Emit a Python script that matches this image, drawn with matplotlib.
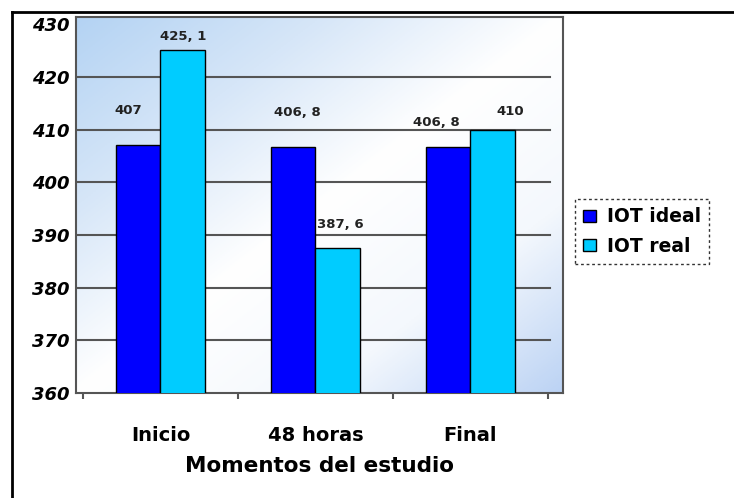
import numpy as np
import matplotlib
matplotlib.use("Agg")
from matplotlib import pyplot as plt
from matplotlib.lines import Line2D
from matplotlib.colors import LinearSegmentedColormap

momentos = ["Inicio", "48 horas", "Final"]
iot_ideal = [407, 406.8, 406.8]
iot_real = [425.1, 387.6, 410]
etiq_ideal = ["407", "406, 8", "406, 8"]
etiq_real = ["425, 1", "387, 6", "410"]
yticks = [360, 370, 380, 390, 400, 410, 420, 430]

# where excel put each data label, pixel offset from the bar top
off_ideal = [(-10, 35), (4, 34), (-12, 24)]
off_real = [(1, 14), (3, 23), (18, 18)]

c_ideal = "#0000FF"
c_real = "#00CCFF"
grid_c = "#555555"

fig = plt.figure(figsize=(7.34, 4.98), dpi=100)
ax = fig.add_axes([76 / 734, 1 - 393 / 498, (563 - 76) / 734, (393 - 17) / 498])

# diagonal blue -> white -> blue wall
cmap = LinearSegmentedColormap.from_list("pared", ["#b4d3f3", "#d6e6f8", "#ffffff", "#f4f8fd", "#bcd3f4"])
gx, gy = np.meshgrid(np.linspace(0, 1, 200), np.linspace(0, 1, 200))
grad = (gx + gy) / 2
ax.imshow(grad, extent=[0, 1, 0, 1], transform=ax.transAxes, cmap=cmap,
          aspect="auto", zorder=0, origin="upper")

x = np.arange(len(momentos))
w = 0.285
ax.bar(x - w / 2, iot_ideal, w, color=c_ideal, edgecolor="black", linewidth=1, zorder=3,
       label="IOT ideal")
ax.bar(x + w / 2, iot_real, w, color=c_real, edgecolor="black", linewidth=1, zorder=3,
       label="IOT real")

ax.set_xlim(-0.545, 2.597)
ax.set_ylim(360, 431.4)

gx_end = (2.51 + 0.545) / (2.597 + 0.545)
for v in yticks[1:-1]:
    ax.axhline(v, xmin=0, xmax=gx_end, color=grid_c, linewidth=1.5, zorder=1)

for i in range(len(momentos)):
    ax.annotate(etiq_ideal[i], (x[i] - w / 2, iot_ideal[i]), xytext=off_ideal[i],
                textcoords="offset pixels", ha="center", va="center",
                fontsize=9.5, fontweight="bold", color="#222222", zorder=4)
    ax.annotate(etiq_real[i], (x[i] + w / 2, iot_real[i]), xytext=off_real[i],
                textcoords="offset pixels", ha="center", va="center",
                fontsize=9.5, fontweight="bold", color="#222222", zorder=4)

ax.set_yticks(yticks)
ax.set_yticklabels([str(v) for v in yticks], fontsize=13, fontweight="bold", style="italic")
ax.tick_params(axis="y", length=0, pad=5)

ax.set_xticks(x)
ax.set_xticklabels(momentos, fontsize=14, fontweight="bold")
ax.tick_params(axis="x", length=0, pad=24)
# small tick marks between the categories
ax.set_xticks([-0.5, 0.5, 1.5, 2.5], minor=True)
ax.tick_params(axis="x", which="minor", length=4, width=1.5, color=grid_c, direction="out")

ax.set_xlabel("Momentos del estudio", fontsize=15.5, fontweight="bold", labelpad=8)

for s in ax.spines.values():
    s.set_color(grid_c)
    s.set_linewidth(1.5)

leg = fig.legend(loc="upper left", bbox_to_anchor=(575 / 734, 1 - 199 / 498),
                 frameon=True, fancybox=False, prop={"size": 13.5, "weight": "bold"},
                 handlelength=0.65, handleheight=0.65, handletextpad=0.6,
                 borderpad=0.45, labelspacing=0.55, borderaxespad=0)
fr = leg.get_frame()
fr.set_edgecolor("black")
fr.set_linestyle((0, (2, 2)))
fr.set_linewidth(1)

# outer frame of the picture
fig.add_artist(Line2D([12 / 734, 1], [1 - 12 / 498, 1 - 12 / 498], color="black", linewidth=2,
                      transform=fig.transFigure))
fig.add_artist(Line2D([12 / 734, 12 / 734], [0, 1 - 12 / 498], color="black", linewidth=2,
                      transform=fig.transFigure))

fig.savefig("out.png", dpi=100)
